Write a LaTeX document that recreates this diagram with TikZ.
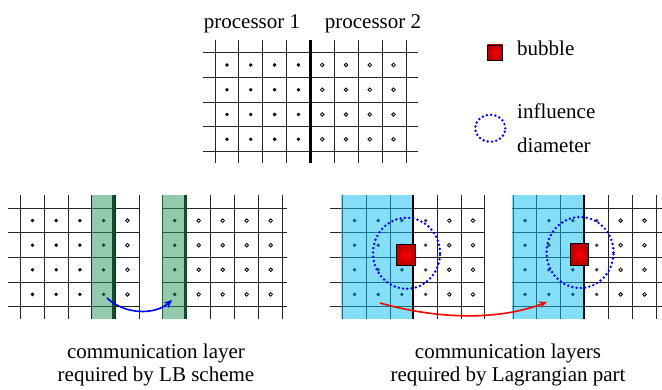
\documentclass[tikz,border=0pt]{standalone}
\usepackage{fontspec}
\setmainfont{Liberation Serif}
\usetikzlibrary{arrows.meta}

\definecolor{lbgreen}{RGB}{39,147,89}
\definecolor{lbdark}{RGB}{20,75,45}
\definecolor{lagcyan}{RGB}{11,189,239}
\definecolor{bubred}{RGB}{255,0,0}
\definecolor{bubdark}{RGB}{185,0,0}

\begin{document}
\begin{tikzpicture}[x=1pt, y=-1pt,
    gridline/.style={black!85, line width=0.9pt},
    dotout/.style={draw=black, fill=white, line width=0.8pt},
    infl/.style={blue, line width=2.7pt, dash pattern=on 0pt off 4.3pt, line cap=round},
    bubble/.style={draw=black, line width=0.7pt, inner sep=0pt, inner color=bubred, outer color=bubdark},
    txt/.style={font=\fontsize{21}{23}\selectfont, inner sep=0pt},
  ]
	\useasboundingbox (0,0) rectangle (662,390);

	% Draw the top grid split between the two processors
	\foreach \i in {0,...,8} \draw[gridline] (215+23.9*\i,40) -- (215+23.9*\i,163);
	\foreach \j in {0,...,4} \draw[gridline] (203,52.7+24.75*\j) -- (418,52.7+24.75*\j);
	\draw[line width=3.2pt] (310.6,40) -- (310.6,163);
	\foreach \j in {0,...,3} {
		\foreach \i in {0,...,3} \fill (227+23.8*\i,65+24.75*\j) circle (1.9pt);
		\foreach \i in {4,...,7} \draw[dotout] (227+23.8*\i,65+24.75*\j) circle (1.8pt);
	}
	\node[txt, anchor=base] (proc1) at (252,29) {processor 1};
	\node[txt, anchor=base] (proc2) at (373,29) {processor 2};

	% Legend
	\node[bubble, minimum width=15.4pt, minimum height=15.7pt] (legbub) at (495,52.8) {};
	\node[txt, anchor=base west] (bubtxt) at (517,56) {bubble};
	\draw[infl] (490.3,128.3) ellipse [x radius=15pt, y radius=13.5pt];
	\node[txt, anchor=base west] (infltxt) at (517,119) {influence};
	\node[txt, anchor=base west] (diamtxt) at (517,152.7) {diameter};

	% LB scheme: processor 1 side
	\foreach \i in {0,...,5} \draw[gridline] (20.7+23.7*\i,195) -- (20.7+23.7*\i,319);
	\foreach \j in {0,...,4} \draw[gridline] (8,208.3+24.6*\j) -- (139.3,208.3+24.6*\j);
	\foreach \j in {0,...,3} {
		\foreach \i in {0,...,3} \fill (32.5+23.7*\i,220.6+24.6*\j) circle (1.9pt);
		\draw[dotout] (127.5,220.6+24.6*\j) circle (1.8pt);
	}
	\fill[lbgreen, opacity=0.5] (91.7,195) rectangle (115.4,319);
	\draw[lbdark, line width=3pt] (113.9,195) -- (113.9,319);

	% LB scheme: processor 2 side
	\foreach \i in {0,...,5} \draw[gridline] (162.7+24*\i,195) -- (162.7+24*\i,319);
	\foreach \j in {0,...,4} \draw[gridline] (162.7,208.3+24.6*\j) -- (286.7,208.3+24.6*\j);
	\foreach \j in {0,...,3} {
		\fill (174.7,220.6+24.6*\j) circle (1.9pt);
		\foreach \i in {1,...,4} \draw[dotout] (174.7+24*\i,220.6+24.6*\j) circle (1.8pt);
	}
	\fill[lbgreen, opacity=0.5] (162.2,195) rectangle (186.9,319);
	\draw[lbdark, line width=3pt] (185.4,195) -- (185.4,319);

	% LB arrow
	\coordinate (lbfrom) at (107,298);
	\coordinate (lbto) at (172,300);
	\draw[-{Stealth[length=8pt,width=7pt]}, blue, line width=1.6pt] (lbfrom) .. controls (125,315) and (155,315) .. (lbto);
	\node[txt, anchor=base] (lbcap1) at (156,359) {communication layer};
	\node[txt, anchor=base] (lbcap2) at (156,381.5) {required by LB scheme};

	% Lagrangian part: processor 1 side
	\foreach \i in {0,...,6} \draw[gridline] (342.7+23.7*\i,195) -- (342.7+23.7*\i,319);
	\foreach \j in {0,...,4} \draw[gridline] (330,208.3+24.6*\j) -- (485,208.3+24.6*\j);
	\foreach \j in {0,...,3} {
		\foreach \i in {0,...,2} \fill (354.5+23.7*\i,220.6+24.6*\j) circle (1.9pt);
		\fill[black!75] (425.6,220.6+24.6*\j) circle (1.9pt);
		\foreach \i in {4,5} \draw[dotout] (354.5+23.7*\i,220.6+24.6*\j) circle (1.8pt);
	}
	\fill[lagcyan, opacity=0.5] (340.7,195) rectangle (413.8,319);
	\draw[line width=2.2pt] (413.2,195) -- (413.2,319);
	\draw[infl] (406.5,253.3) ellipse [x radius=33.5pt, y radius=35.5pt];
	\node[bubble, minimum width=19pt, minimum height=21.5pt] (bub1) at (405.5,254.8) {};

	% Lagrangian part: processor 2 side
	\foreach \i in {0,...,6} \draw[gridline] (513+23.9*\i,195) -- (513+23.9*\i,319);
	\foreach \j in {0,...,4} \draw[gridline] (512,208.3+24.6*\j) -- (662,208.3+24.6*\j);
	\foreach \j in {0,...,3} {
		\foreach \i in {0,...,2} \fill (525+23.9*\i,220.6+24.6*\j) circle (1.9pt);
		\fill[black!75] (596.7,220.6+24.6*\j) circle (1.9pt);
		\foreach \i in {4,5} \draw[dotout] (525+23.9*\i,220.6+24.6*\j) circle (1.8pt);
	}
	\fill[lagcyan, opacity=0.5] (512,195) rectangle (584.7,319);
	\draw[line width=2.2pt] (584.2,195) -- (584.2,319);
	\draw[infl] (580,252.5) ellipse [x radius=33.5pt, y radius=35.5pt];
	\node[bubble, minimum width=18.3pt, minimum height=21.5pt] (bub2) at (579.2,254.2) {};

	% Lagrangian arrow
	\coordinate (lagfrom) at (380,303);
	\coordinate (lagto) at (547,302);
	\draw[-{Stealth[length=8pt,width=7pt]}, red, line width=1.6pt] (lagfrom) .. controls (440,320) and (500,320) .. (lagto);
	\node[txt, anchor=base] (lagcap1) at (508,359) {communication layers};
	\node[txt, anchor=base] (lagcap2) at (508,381.5) {required by Lagrangian part};
\end{tikzpicture}
\end{document}
